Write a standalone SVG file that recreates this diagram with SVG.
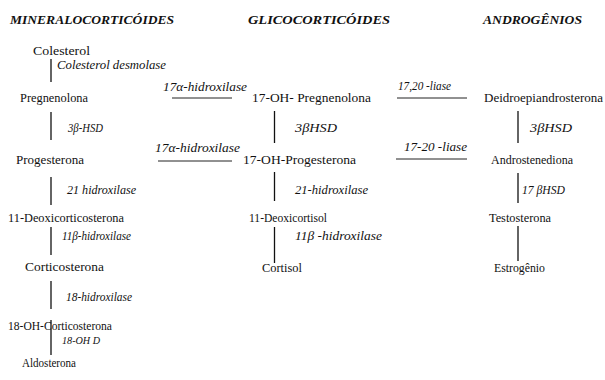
<svg xmlns="http://www.w3.org/2000/svg" width="605" height="380" viewBox="0 0 605 380">
<style>
.h{font-family:'Liberation Serif','Times New Roman','DejaVu Serif',serif;font-size:13px;font-weight:bold;font-style:italic;fill:#111}
.n{font-family:'Liberation Serif','Times New Roman','DejaVu Serif',serif;font-size:12.5px;fill:#111}
.e{font-family:'Liberation Serif','Times New Roman','DejaVu Serif',serif;font-size:12px;font-style:italic;fill:#111}
.s{font-size:11px}
.c line{stroke:#111;stroke-width:1.3}
.c line.hz{stroke:#222;stroke-width:1}
</style>
<rect width="605" height="380" fill="#fff"/>
<g id="headers">
<text class="h" x="10" y="24" textLength="164" lengthAdjust="spacingAndGlyphs">MINERALOCORTICÓIDES</text>
<text class="h" x="248" y="24" textLength="142" lengthAdjust="spacingAndGlyphs">GLICOCORTICÓIDES</text>
<text class="h" x="483" y="24" textLength="99" lengthAdjust="spacingAndGlyphs">ANDROGÊNIOS</text>
</g>
<g class="c" id="connectors">
<line x1="51" y1="59" x2="51" y2="82"/>
<line x1="51" y1="112" x2="51" y2="140"/>
<line x1="51" y1="177" x2="51" y2="205"/>
<line x1="51" y1="227" x2="51" y2="255"/>
<line x1="51" y1="281" x2="51" y2="309"/>
<line x1="51" y1="320" x2="51" y2="355"/>
<line x1="274.5" y1="111" x2="274.5" y2="143"/>
<line x1="274.5" y1="172" x2="274.5" y2="201"/>
<line x1="274.5" y1="227" x2="274.5" y2="263"/>
<line x1="518" y1="111" x2="518" y2="143"/>
<line x1="518" y1="173" x2="518" y2="203"/>
<line x1="518" y1="226" x2="518" y2="261"/>
<line class="hz" x1="172" y1="98" x2="232" y2="98"/>
<line class="hz" x1="397" y1="98" x2="467" y2="98"/>
<line class="hz" x1="158" y1="161" x2="232" y2="161"/>
<line class="hz" x1="396" y1="159" x2="467" y2="159"/>
</g>
<g id="colesterol"><text class="n" x="33" y="55" textLength="57" lengthAdjust="spacingAndGlyphs">Colesterol</text></g>
<g id="pregnenolona"><text class="n" x="20" y="102" textLength="68" lengthAdjust="spacingAndGlyphs">Pregnenolona</text></g>
<g id="progesterona"><text class="n" x="16" y="164" textLength="68" lengthAdjust="spacingAndGlyphs">Progesterona</text></g>
<g id="deoxicorticosterona"><text class="n" x="8" y="222" textLength="116" lengthAdjust="spacingAndGlyphs">11-Deoxicorticosterona</text></g>
<g id="corticosterona"><text class="n" x="25" y="271" textLength="79" lengthAdjust="spacingAndGlyphs">Corticosterona</text></g>
<g id="oh-corticosterona"><text class="n" x="8" y="330" textLength="104" lengthAdjust="spacingAndGlyphs">18-OH-Corticosterona</text></g>
<g id="aldosterona"><text class="n" x="22" y="367" textLength="54" lengthAdjust="spacingAndGlyphs">Aldosterona</text></g>
<g id="oh-pregnenolona"><text class="n" x="252" y="102" textLength="119" lengthAdjust="spacingAndGlyphs">17-OH- Pregnenolona</text></g>
<g id="oh-progesterona"><text class="n" x="243" y="164" textLength="113" lengthAdjust="spacingAndGlyphs">17-OH-Progesterona</text></g>
<g id="deoxicortisol"><text class="n" x="249" y="222" textLength="78" lengthAdjust="spacingAndGlyphs">11-Deoxicortisol</text></g>
<g id="cortisol"><text class="n" x="262" y="272" textLength="40" lengthAdjust="spacingAndGlyphs">Cortisol</text></g>
<g id="dhea"><text class="n" x="484" y="102" textLength="119" lengthAdjust="spacingAndGlyphs">Deidroepiandrosterona</text></g>
<g id="androstenediona"><text class="n" x="491" y="164" textLength="82" lengthAdjust="spacingAndGlyphs">Androstenediona</text></g>
<g id="testosterona"><text class="n" x="489" y="222" textLength="62" lengthAdjust="spacingAndGlyphs">Testosterona</text></g>
<g id="estrogenio"><text class="n" x="494" y="272" textLength="51" lengthAdjust="spacingAndGlyphs">Estrogênio</text></g>
<g id="enzymes">
<text class="e" x="57" y="69" textLength="109" lengthAdjust="spacingAndGlyphs">Colesterol desmolase</text>
<text class="e" x="163" y="91" textLength="84" lengthAdjust="spacingAndGlyphs">17α-hidroxilase</text>
<text class="e" x="398" y="90" textLength="53" lengthAdjust="spacingAndGlyphs">17,20 -liase</text>
<text class="e" x="68" y="132" textLength="35" lengthAdjust="spacingAndGlyphs">3β-HSD</text>
<text class="e" x="295" y="132" textLength="42" lengthAdjust="spacingAndGlyphs">3βHSD</text>
<text class="e" x="530" y="132" textLength="42" lengthAdjust="spacingAndGlyphs">3βHSD</text>
<text class="e" x="155" y="152" textLength="85" lengthAdjust="spacingAndGlyphs">17α-hidroxilase</text>
<text class="e" x="404" y="151" textLength="63" lengthAdjust="spacingAndGlyphs">17-20 -liase</text>
<text class="e" x="67" y="194" textLength="69" lengthAdjust="spacingAndGlyphs">21  hidroxilase</text>
<text class="e" x="295" y="194" textLength="73" lengthAdjust="spacingAndGlyphs">21-hidroxilase</text>
<text class="e" x="522" y="194" textLength="43" lengthAdjust="spacingAndGlyphs">17 βHSD</text>
<text class="e" x="62" y="240" textLength="69" lengthAdjust="spacingAndGlyphs">11β-hidroxilase</text>
<text class="e" x="295" y="240" textLength="87" lengthAdjust="spacingAndGlyphs">11β -hidroxilase</text>
<text class="e" x="66" y="301" textLength="66" lengthAdjust="spacingAndGlyphs">18-hidroxilase</text>
<text class="e s" x="62" y="344" textLength="38" lengthAdjust="spacingAndGlyphs">18-OH D</text>
</g>
</svg>
